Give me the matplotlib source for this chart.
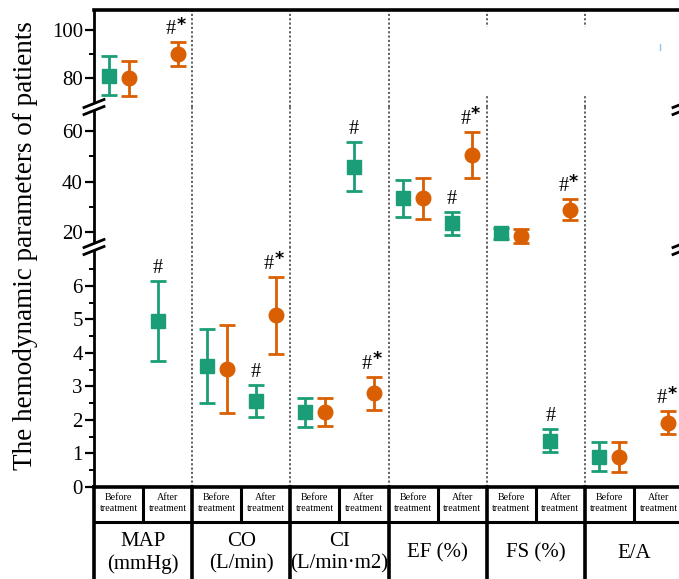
import numpy as np
import matplotlib
matplotlib.use("Agg")
import matplotlib.pyplot as plt
from matplotlib.lines import Line2D
from matplotlib.patches import Rectangle, Polygon

plt.rcParams['font.family'] = ['Liberation Serif', 'DejaVu Serif']

# ---------------- data ----------------
groups = ["MAP\n(mmHg)", "CO\n(L/min)", "CI\n(L/min\u00b7m2)", "EF (%)", "FS (%)", "E/A"]
sub_labels = ["Before\ntreatment", "After\ntreatment"]

before_a = [81.1, 3.61, 2.22, 33.4, 19.6, 0.90]
before_a_err = [8.2, 1.10, 0.43, 7.4, 2.2, 0.43]
before_b = [80.0, 3.51, 2.24, 33.4, 18.5, 0.88]
before_b_err = [7.2, 1.32, 0.42, 8.1, 2.8, 0.45]
after_a = [4.95, 2.56, 45.8, 23.5, 1.38, np.nan]
after_a_err = [1.20, 0.47, 9.7, 4.5, 0.35, np.nan]
after_b = [89.9, 5.13, 2.79, 50.7, 28.9, 1.91]
after_b_err = [5.0, 1.15, 0.50, 9.1, 4.1, 0.34]
after_a_marks = ["#", "#", "#", "#", "#", ""]
after_b_marks = ["#*", "#*", "#*", "#*", "#*", "#*"]

green = "#1b9e77"
orange = "#d95f02"

# ---------------- layout ----------------
W, H = 679, 579
fig = plt.figure(figsize=(W / 100, H / 100), dpi=100)

def fx(px):
    return px / W

def fy(py):
    return 1 - py / H

x_left, x_right = 94, 683
y_top, y_b1, y_b2, y_bot = 10, 107, 248, 486.7
gw = (x_right - x_left) / 6.0

def v_top(px):
    return 100 - (px - 30) / 2.415

def v_mid(px):
    return 60 - (px - 131) / 2.53

def v_bot(px):
    return (486.7 - px) / 33.45

segments = [
    (y_top, y_b1, (v_top(y_b1), v_top(y_top)), [80, 100], [90]),
    (y_b1, y_b2, (v_mid(y_b2), v_mid(y_b1)), [20, 40, 60], [30, 50]),
    (y_b2, y_bot, (0, v_bot(y_b2)), [0, 1, 2, 3, 4, 5, 6], list(np.arange(0.5, 7, 1.0))),
]

axes = []
for i, (pt, pb, ylim, majors, minors) in enumerate(segments):
    ax = fig.add_axes([fx(x_left), fy(pb), (x_right - x_left) / W, (pb - pt) / H])
    ax.set_facecolor("none")
    ax.set_xlim(0, 6)
    ax.set_ylim(*ylim)
    ax.set_xticks([])
    ax.set_yticks(majors)
    ax.set_yticks(minors, minor=True)
    ax.tick_params(axis='y', which='major', direction='out', length=6.5, width=1.6,
                   labelsize=15, pad=1.5, colors='black')
    ax.tick_params(axis='y', which='minor', direction='out', length=3.8, width=1.4)
    for s in ax.spines.values():
        s.set_visible(False)
    ax.spines['left'].set_visible(True)
    ax.spines['left'].set_linewidth(2)
    if i == 0:
        ax.spines['top'].set_visible(True)
        ax.spines['top'].set_linewidth(2.6)
    if i == 2:
        ax.spines['bottom'].set_visible(True)
        ax.spines['bottom'].set_linewidth(2.6)
    for g in range(1, 6):
        ax.axvline(g, color='#555555', ls=(0, (1.2, 1.2)), lw=1.3, zorder=1)
    axes.append(ax)

def seg_of(v):
    if v > 68.5:
        return axes[0]
    if v > 13.5:
        return axes[1]
    return axes[2]

off = 0.102
series = [
    (before_a, before_a_err, 0.25 - off, 's', green, None),
    (before_b, before_b_err, 0.25 + off, 'o', orange, None),
    (after_a, after_a_err, 0.75 - off, 's', green, after_a_marks),
    (after_b, after_b_err, 0.75 + off, 'o', orange, after_b_marks),
]

for vals, errs, dx, mk, col, marks in series:
    for g, (v, e) in enumerate(zip(vals, errs)):
        if np.isnan(v):
            continue
        ax = seg_of(v)
        x = g + dx
        ax.errorbar([x], [v], yerr=[e], fmt=mk, color=col, ms=10 if mk == 's' else 10.5,
                    capsize=5.8, elinewidth=2, capthick=2, zorder=3)
        if marks is not None and marks[g]:
            if marks[g] == "#":
                ax.annotate("#", xy=(x, v + e), xytext=(0, 9), textcoords='offset points',
                            ha='center', va='center', fontsize=14.5, color='black')
            else:
                ax.annotate("#", xy=(x, v + e), xytext=(-5, 9), textcoords='offset points',
                            ha='center', va='center', fontsize=14.5, color='black')
                ax.annotate("*", xy=(x, v + e), xytext=(2.4, 12.5), textcoords='offset points',
                            ha='center', va='center', fontsize=12.5, fontweight='bold',
                            family='DejaVu Sans', color='black')

# ---------------- axis breaks ----------------
def slash(xc, yc, half_w=10, half_h=4, lw=2):
    fig.add_artist(Line2D([fx(xc - half_w), fx(xc + half_w)], [fy(yc + half_h), fy(yc - half_h)],
                          color='black', lw=lw, zorder=20))

for xc in (x_left, 683):
    for (y1, y2) in ((103.5, 110.5), (243.5, 250.5)):
        poly = Polygon([(fx(xc - 10), fy(y1 + 4)), (fx(xc + 10), fy(y1 - 4)),
                        (fx(xc + 10), fy(y2 - 4)), (fx(xc - 10), fy(y2 + 4))],
                       closed=True, facecolor='white', edgecolor='none',
                       transform=fig.transFigure, zorder=19)
        fig.add_artist(poly)
        slash(xc, y1)
        slash(xc, y2)

# white patch (erased area) and small artifact
fig.add_artist(Rectangle((fx(478), fy(95)), (679 - 478) / W, (95 - 27) / H,
                         transform=fig.transFigure, facecolor='white', edgecolor='none', zorder=15))
fig.add_artist(Line2D([fx(659.5), fx(659.5)], [fy(44), fy(50)], color='#8cc4ee', lw=1, zorder=16))

# ---------------- table below ----------------
y_row = 521.7
fig.add_artist(Line2D([fx(x_left), fx(x_right)], [fy(y_row), fy(y_row)], color='black', lw=2.2, zorder=20))
for k in range(7):
    xp = x_left + k * gw
    fig.add_artist(Line2D([fx(xp), fx(xp)], [fy(y_bot), fy(H + 2)], color='black', lw=2.6, zorder=20))
for k in range(6):
    xp = x_left + (k + 0.5) * gw
    fig.add_artist(Line2D([fx(xp), fx(xp)], [fy(y_bot), fy(y_row)], color='black', lw=2.2, zorder=20))
    for j, lab in enumerate(sub_labels):
        xc = x_left + (k + 0.25 + 0.5 * j) * gw
        fig.text(fx(xc), fy(503), lab, ha='center', va='center', fontsize=7.2,
                 linespacing=1.25, color='black')
    fig.text(fx(x_left + (k + 0.5) * gw), fy(553), groups[k], ha='center', va='center',
             fontsize=15, linespacing=1.25, color='black')

# ---------------- y label ----------------
fig.text(fx(26), fy(246), "The hemodynamic parameters of patients", rotation=90,
         ha='center', va='center', fontsize=19.5, color='black')

fig.savefig("out.png", dpi=100)
